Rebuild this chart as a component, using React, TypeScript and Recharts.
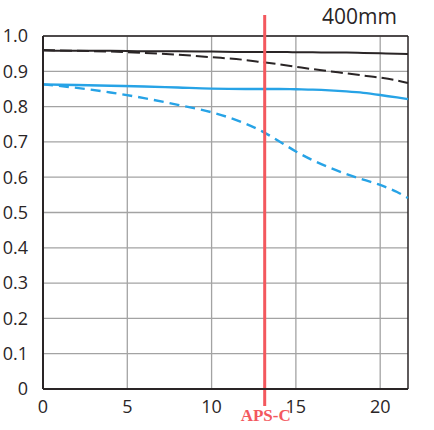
import React from 'react'
import { LineChart, Line, XAxis, YAxis, CartesianGrid, ReferenceLine } from 'recharts'

const imageHeight = [0, 2, 4, 6, 8, 10, 12, 13, 14, 15, 16, 17, 18, 19, 20, 21, 21.65]
const sagittal10 = [0.959, 0.958, 0.958, 0.957, 0.957, 0.956, 0.955, 0.955, 0.955, 0.954, 0.954, 0.953, 0.953, 0.952, 0.951, 0.95, 0.949]
const meridional10 = [0.96, 0.958, 0.956, 0.952, 0.947, 0.94, 0.932, 0.926, 0.92, 0.913, 0.906, 0.9, 0.894, 0.888, 0.882, 0.874, 0.867]
const sagittal30 = [0.863, 0.861, 0.859, 0.857, 0.854, 0.851, 0.85, 0.85, 0.85, 0.849, 0.848, 0.846, 0.843, 0.839, 0.833, 0.826, 0.821]
const meridional30 = [0.863, 0.853, 0.84, 0.824, 0.805, 0.784, 0.752, 0.73, 0.702, 0.673, 0.648, 0.627, 0.609, 0.593, 0.578, 0.558, 0.541]

const xTicks = [0, 5, 10, 15, 20]
const yTicks = [0, 0.1, 0.2, 0.3, 0.4, 0.5, 0.6, 0.7, 0.8, 0.9, 1.0]
const apsc = 13.15
const xMax = 21.65

const data = imageHeight.map((x, i) => ({
  x,
  s10: sagittal10[i],
  m10: meridional10[i],
  s30: sagittal30[i],
  m30: meridional30[i],
}))

const dark = '#2a2526'
const blue = '#27a3e6'
const red = '#f3585e'
const tickStyle = { fill: '#2a2526', fontSize: 18, fontFamily: 'Open Sans, sans-serif' }

const ApscLine = (props: any) => {
  const { x1, y1, y2 } = props
  const top = Math.min(y1, y2)
  const bottom = Math.max(y1, y2)
  return (
    <g>
      <line x1={x1} x2={x1} y1={top - 21} y2={bottom + 17} stroke={red} strokeWidth={3} />
      <text
        x={x1 + 1}
        y={bottom + 32}
        textAnchor="middle"
        fill={red}
        fontFamily="Liberation Serif, serif"
        fontWeight="bold"
        fontSize={17}
      >
        APS-C
      </text>
    </g>
  )
}

export default function App() {
  return (
    <div style={{ position: 'absolute', left: 0, top: 0, background: '#fff' }}>
      <LineChart width={434} height={430} data={data} margin={{ top: 36, right: 26, left: 8, bottom: 11 }}>
        <CartesianGrid stroke="#a3a3a3" strokeWidth={1.3} horizontalValues={yTicks} verticalValues={xTicks} />
        <XAxis
          dataKey="x"
          type="number"
          domain={[0, xMax]}
          ticks={xTicks}
          tickLine={false}
          axisLine={{ stroke: dark, strokeWidth: 2 }}
          tick={tickStyle}
          height={30}
          tickMargin={5}
        />
        <YAxis
          type="number"
          domain={[0, 1]}
          ticks={yTicks}
          tickLine={false}
          axisLine={{ stroke: dark, strokeWidth: 2 }}
          tick={tickStyle}
          tickFormatter={(v: number) => (v === 0 ? '0' : v.toFixed(1))}
          width={35}
          tickMargin={9}
        />
        <ReferenceLine y={1} stroke={dark} strokeWidth={1.5} />
        <ReferenceLine x={xMax} stroke={dark} strokeWidth={1.5} />
        <Line dataKey="s10" stroke={dark} strokeWidth={2} dot={false} isAnimationActive={false} type="monotone" />
        <Line dataKey="m10" stroke={dark} strokeWidth={2} strokeDasharray="12 5" dot={false} isAnimationActive={false} type="monotone" />
        <Line dataKey="s30" stroke={blue} strokeWidth={2.4} dot={false} isAnimationActive={false} type="monotone" />
        <Line dataKey="m30" stroke={blue} strokeWidth={2.4} strokeDasharray="10 6" dot={false} isAnimationActive={false} type="monotone" />
        <ReferenceLine x={apsc} shape={ApscLine} />
      </LineChart>
      <div
        style={{
          position: 'absolute',
          left: 322,
          top: 2,
          fontSize: 21,
          fontFamily: 'Open Sans, sans-serif',
          color: dark,
        }}
      >
        400mm
      </div>
    </div>
  )
}
